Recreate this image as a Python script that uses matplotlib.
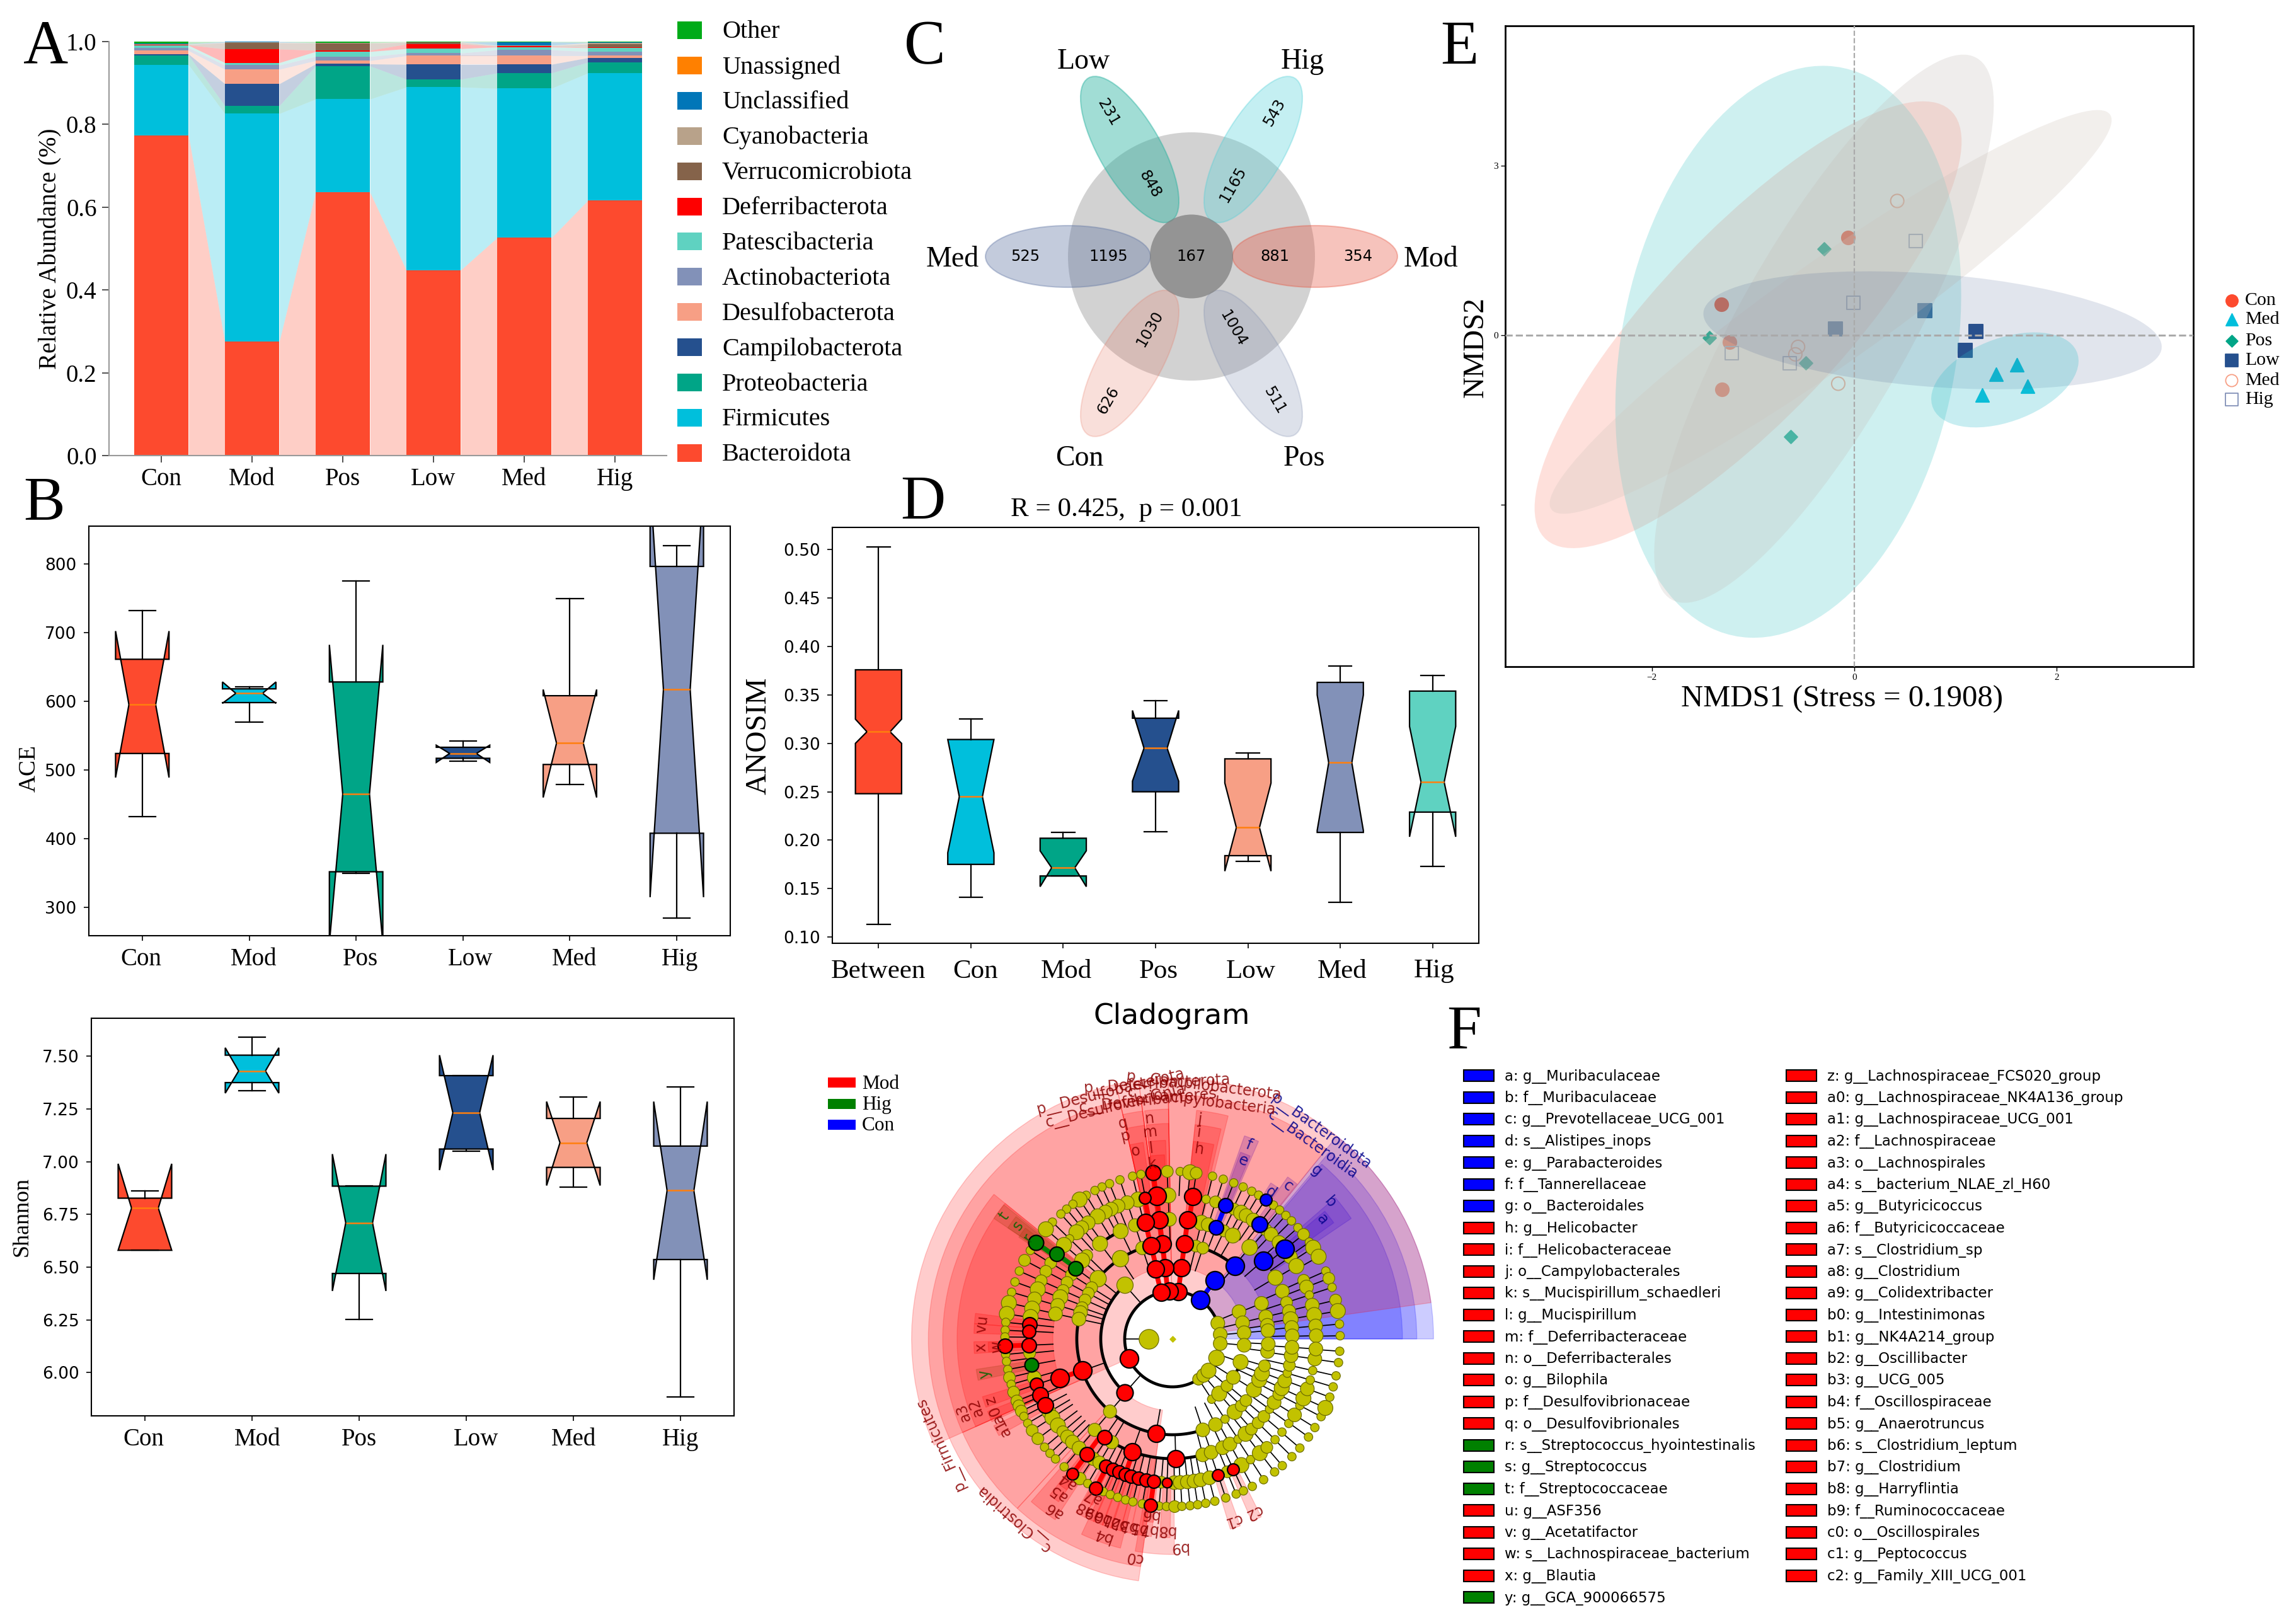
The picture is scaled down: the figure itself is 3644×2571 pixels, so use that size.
import numpy as np
import matplotlib
matplotlib.use("Agg")
import matplotlib.pyplot as plt
from matplotlib.patches import Ellipse, Rectangle
from matplotlib.transforms import ScaledTranslation

W, H = 3644, 2571
SERIF = ["Liberation Serif", "DejaVu Serif"]
SANS = ["DejaVu Sans"]
plt.rcParams["font.family"] = SERIF

# Panel A: relative abundance of each phylum per group
groups = ["Con", "Mod", "Pos", "Low", "Med", "Hig"]
phyla = ["Bacteroidota", "Firmicutes", "Proteobacteria", "Campilobacterota",
         "Desulfobacterota", "Actinobacteriota", "Patescibacteria",
         "Deferribacterota", "Verrucomicrobiota", "Cyanobacteria",
         "Unclassified", "Unassigned", "Other"]
bacteroidota = [0.773, 0.275, 0.636, 0.448, 0.526, 0.616]
firmicutes = [0.171, 0.551, 0.225, 0.442, 0.361, 0.308]
proteobacteria = [0.023, 0.019, 0.080, 0.019, 0.037, 0.026]
campilobacterota = [0.003, 0.053, 0.005, 0.036, 0.021, 0.011]
desulfobacterota = [0.008, 0.035, 0.008, 0.021, 0.021, 0.005]
actinobacteriota = [0.007, 0.010, 0.010, 0.006, 0.014, 0.010]
patescibacteria = [0.006, 0.006, 0.012, 0.011, 0.007, 0.009]
deferribacterota = [0.001, 0.033, 0.003, 0.011, 0.002, 0.001]
verrucomicrobiota = [0.001, 0.015, 0.017, 0.004, 0.001, 0.008]
cyanobacteria = [0.001, 0.001, 0.001, 0.001, 0.001, 0.003]
unclassified = [0.001, 0.002, 0.000, 0.000, 0.008, 0.001]
unassigned = [0.000, 0.000, 0.000, 0.000, 0.000, 0.000]
other = [0.005, 0.000, 0.003, 0.001, 0.001, 0.002]
phylum_values = [bacteroidota, firmicutes, proteobacteria, campilobacterota,
                 desulfobacterota, actinobacteriota, patescibacteria,
                 deferribacterota, verrucomicrobiota, cyanobacteria,
                 unclassified, unassigned, other]
phylum_colors = ["#FD4A2E", "#00BFDC", "#00A587", "#25508E", "#F79F85",
                 "#8291B8", "#5FD2C1", "#FE0000", "#85634A", "#B8A28A",
                 "#0076B8", "#FF8000", "#00AB18"]

# Panel B: ACE
ace_whislo = [432, 570, 350, 513, 479, 285]
ace_q1 = [524, 598, 352, 517, 508, 408]
ace_med = [595, 611.5, 465, 524, 539, 617]
ace_q3 = [661, 618, 628, 533, 608, 796]
ace_whishi = [732, 621, 775, 542, 749, 826]
ace_cilo = [489, 597, 248, 511, 460, 315]
ace_cihi = [702, 628, 682, 536, 617, 920]

# Panel B: Shannon
sha_whislo = [6.58, 7.336, 6.253, 7.05, 6.878, 5.884]
sha_q1 = [6.58, 7.375, 6.47, 7.06, 6.973, 6.536]
sha_med = [6.78, 7.43, 6.71, 7.232, 7.09, 6.863]
sha_q3 = [6.827, 7.505, 6.884, 7.408, 7.205, 7.074]
sha_whishi = [6.86, 7.59, 6.884, 7.408, 7.307, 7.354]
sha_cilo = [6.58, 7.325, 6.387, 6.96, 6.887, 6.44]
sha_cihi = [6.99, 7.54, 7.036, 7.505, 7.285, 7.285]
alpha_colors = ["#FD4A2E", "#00BFDC", "#00A587", "#25508E", "#F79F85", "#8291B8"]

# Panel D: ANOSIM
ano_names = ["Between", "Con", "Mod", "Pos", "Low", "Med", "Hig"]
ano_whislo = [0.113, 0.141, 0.163, 0.209, 0.178, 0.136, 0.173]
ano_q1 = [0.248, 0.175, 0.163, 0.25, 0.184, 0.208, 0.229]
ano_med = [0.312, 0.245, 0.1715, 0.295, 0.213, 0.28, 0.26]
ano_q3 = [0.376, 0.304, 0.202, 0.326, 0.284, 0.363, 0.354]
ano_whishi = [0.503, 0.325, 0.208, 0.344, 0.29, 0.38, 0.37]
ano_cilo = [0.30, 0.187, 0.152, 0.261, 0.168, 0.21, 0.2035]
ano_cihi = [0.325, 0.304, 0.189, 0.334, 0.259, 0.35, 0.3175]
ano_colors = ["#FD4A2E", "#00BFDC", "#00A587", "#25508E", "#F79F85", "#8291B8", "#5FD2C1"]

# Panel C: Venn counts
venn_names = ["Mod", "Hig", "Low", "Med", "Con", "Pos"]
venn_angles = [0, 60, 120, 180, 240, 300]
venn_unique = [354, 543, 231, 525, 626, 511]
venn_shared = [881, 1165, 848, 1195, 1030, 1004]
venn_core = 167
venn_colors = [("#E64B35", 0.33), ("#4DD0D8", 0.33), ("#1FAF9C", 0.42),
               ("#5A70A0", 0.36), ("#E8705A", 0.22), ("#7E8CAE", 0.26)]

# Panel E: NMDS points
nmds_names = ["Con", "Med", "Pos", "Low", "Med", "Hig"]
nmds_x = [[-1.316, -0.062, -1.236, -1.307], [1.607, 1.404, 1.713, 1.263],
          [-0.30, -1.43, -0.477, -0.627], [0.698, -0.185, 1.201, 1.095],
          [0.424, -0.556, -0.583, -0.159], [0.609, -0.009, -1.21, -0.636]]
nmds_y = [[0.544, 1.723, -0.124, -0.956], [-0.527, -0.692, -0.898, -1.055],
          [1.525, -0.049, -0.495, -1.797], [0.429, 0.107, 0.066, -0.264],
          [2.374, -0.206, -0.338, -0.857], [1.665, 0.569, -0.313, -0.495]]
nmds_markers = ["o", "^", "D", "s", "o", "s"]
nmds_colors = ["#FD4A2E", "#00BFDC", "#00A587", "#25508E", "#F79F85", "#8291B8"]
nmds_filled = [True, True, True, True, False, False]

# Panel E: confidence ellipses
ell_cx = [-1.05, -0.653, -0.234, -0.30, 0.773, 1.488]
ell_cy = [0.185, -0.293, 0.412, 0.115, 0.087, -0.79]
ell_ax = [2.11, 1.709, 2.777, 1.678, 2.265, 0.728]
ell_ay = [3.95, 5.056, 3.569, 4.846, 1.043, 0.84]
ell_rho = [0.82, 0.2, 0.95, 0.82, -0.28, 0.4]
ell_colors = [("#FD4A2E", 0.17), ("#5FCFD0", 0.30), ("#CFC4BC", 0.27),
              ("#C4BEB9", 0.27), ("#3C5488", 0.15), ("#2CBBC9", 0.26)]

# Panel F: cladogram, angle in degrees per taxonomic level, node diameter in pixels
y7_ang = [91.8, 100.9, 103.8, 108.3, 112.1, 114.9, 117.6, 121.0, 123.7, 126.5, 129.2, 131.8,
          135.8, 139.1, 148.1, 152.0, 156.1, 160.1, 163.8, 167.6, 171.4, 174.3, 177, 179.3,
          87.4, 84.0, 81.9, 76.2, 72.4, 68.6, 65.1, 61.8, 59.1, 53.0, 50.3, 47.5, 44.8, 41.6,
          38.6, 35.3, 33.0, 29.4, 23.9, 21.2, 17.9, 13.4, 9.6, 5.1, 1.1,
          185.3, 187.7, 190.5, 193.3, 195.7, 198.5, 201.7, 203.5, 205.5, 207.5, 210.2, 213.1,
          216.5, 220.2, 223, 225.7, 229.7, 236.4, 239.6, 245.6, 248.2, 250.9, 253.7, 256.3,
          259.6, 265.4, 267.9,
          270.7, 273.2, 276, 278.6, 281.4, 284.6, 288.5, 292.3, 295, 298.4, 302.9, 307.5,
          310.9, 315.4, 319.4, 324.2, 328.1, 332.4, 335.7, 339.7, 343.4, 347.3, 351.9, 355.8]
y7_dia = [18, 13, 13, 13, 13, 13, 13, 13, 23, 13, 13, 13,
          13, 23, 13, 18, 13, 13, 13, 23, 23, 13, 13, 13,
          13, 23, 18, 13, 13, 13, 13, 13, 13, 13, 13, 13, 13, 13,
          18, 13, 23, 23, 13, 18, 13, 18, 23, 13, 13,
          13, 13, 13, 18, 13, 18, 18, 18, 18, 13, 13, 18,
          18, 13, 13, 13, 13, 19, 13, 13, 13, 13, 13, 13,
          13, 13, 13,
          18, 13, 13, 13, 13, 13, 13, 13, 13, 13, 13, 13,
          13, 13, 13, 13, 13, 13, 23, 13, 13, 13, 13, 13]
y6_ang = [91.7, 103.9, 108.4, 112.3, 115.3, 117.9, 121.4, 126.0, 129.2, 132.0, 135.8, 139.1,
          148.0, 151.9, 156.1, 159.8, 163.8, 167.8, 171.2,
          76.5, 72.6, 64.7, 61.5, 59.2, 55.9, 49.4, 46.7, 42.2, 34.9, 30.5, 24.1, 21.2, 17.8,
          13.6, 9.6, 5.2, 1.3,
          185.7, 195.6, 210.6, 213.2, 217, 220.2, 223, 225.8, 229.4, 236.6, 239.4, 265.5,
          270.7, 273, 275.9, 278.6, 281.3, 284.9, 292.4, 298.6, 302.9, 307.4, 311, 315.5,
          319.6, 324, 328.1, 332.4, 335.6, 339.7, 343.4, 347.3, 352, 356]
y6_dia = [23, 23, 21, 21, 21, 21, 23, 21, 21, 23, 13, 23,
          18, 18, 18, 23, 21, 23, 23,
          13, 18, 18, 23, 21, 21, 18, 21, 21, 21, 23, 18, 21, 13,
          21, 23, 21, 21,
          18, 21, 21, 23, 23, 18, 21, 21, 21, 20, 20, 18,
          21, 21, 21, 21, 21, 21, 18, 23, 13, 23, 18, 13,
          13, 13, 21, 13, 23, 21, 13, 13, 21, 21]
y5_ang = [91.5, 108.3, 115.7, 127.3, 135.8, 139.0, 147.6, 151.8, 156.1, 159.6, 163.7, 167.9,
          76.1, 72.7, 64.5, 59.8, 49.9, 30.8, 23.5, 17.8, 13.4, 9.5, 5.5, 1.5,
          229.4, 239.6,
          284.6, 288.8, 294.7, 298.6, 303.2, 307.6, 311.2, 315.6, 319.7, 324.1, 328, 332.5,
          335.8, 339.5, 343.4, 347.3, 352, 356]
y5_dia = [21, 20, 23, 23, 18, 23, 18, 18, 18, 23, 21, 21,
          23, 21, 18, 23, 24, 23, 21, 18, 20, 23, 21, 21,
          20, 20,
          21, 21, 21, 21, 13, 23, 18, 18, 18, 13, 21, 18,
          23, 21, 13, 18, 21, 21]
y4_ang = [108.4, 123, 141, 147.6, 151.5, 156, 160.9, 164, 168,
          75.9, 71.6, 21.8, 13.4, 8.2, 5,
          229.2,
          288.4, 296.6, 303.2, 310.4, 315.8, 320, 328, 334.8, 338.9, 343.7, 352.5, 357]
y4_dia = [20, 25, 25, 18, 18, 18, 18, 21, 21,
          18, 18, 21, 21, 21, 21,
          20,
          21, 21, 13, 23, 18, 18, 23, 23, 23, 18, 21, 21]
y3_ang = [131.5, 22.3, 13.0, 5.0, 303, 310.5, 319.2, 327.7, 341.3, 355]
y3_dia = [25, 21, 21, 21, 13, 23, 18, 21, 23, 21]
y2_ang = [19.2, 5.5, 302.9, 310.5, 318.6, 336.6, 354.5]
y2_dia = [21, 21, 18, 21, 23, 24, 21]
y1_ang = [180]
y1_dia = [30]
yellow_angles = {1: y1_ang, 2: y2_ang, 3: y3_ang, 4: y4_ang, 5: y5_ang, 6: y6_ang, 7: y7_ang}
yellow_dias = {1: y1_dia, 2: y2_dia, 3: y3_dia, 4: y4_dia, 5: y5_dia, 6: y6_dia, 7: y7_dia}

clade_name = ["a", "b", "c", "d", "e", "f", "g", "p__Bacteroidota", "c__Bacteroidia",
              "h", "i", "j", "p__Campilobacterota", "c__Campylobacteria",
              "k", "l", "m", "n", "p__Deferribacterota", "c__Deferribacteres",
              "o", "p", "q", "p__Desulfobacterota", "c__Desulfovibrionia",
              "r", "s", "t", "y",
              "u", "v", "w", "x", "z", "a0", "a1", "a2", "a3", "a4", "a5", "a6", "a7", "a8",
              "a9", "b0", "b1", "b2", "b3", "b4", "b5", "b6", "b7", "b8", "b9", "c0", "c1", "c2",
              "p__Firmicutes", "c__Clostridia"]
clade_group = (["Con"] * 9 + ["Mod"] * 16 + ["Hig"] * 4 + ["Mod"] * 30)
clade_theta = [38.7, 40.9, 52.9, 56.3, 68.4, 68.6, 49.5, 54.3, 54.3,
               82.0, 82.8, 82.9, 83.0, 83.0,
               96.6, 96.3, 96.2, 96.0, 93.4, 95.9,
               101.2, 103.1, 102.9, 104.0, 103.8,
               144.8, 143.7, 143.9, 190.4,
               174.2, 176.9, 182.4, 182.5, 198.5, 203, 207.5, 199.2, 199.4, 233.4, 233.4, 235.3,
               242.8, 242.4, 245.3, 248, 250.7, 253.3, 256.2, 250.3, 259.3, 262.5, 262.4, 267.8,
               271.5, 260, 288.4, 295, 204.3, 228.5]
clade_level = [6, 5, 6, 7, 6, 5, 4, 2, 3,
               6, 5, 4, 2, 3,
               7, 6, 5, 4, 2, 3,
               6, 5, 4, 2, 3,
               7, 6, 5, 6,
               6, 6, 7, 6, 6, 6, 6, 5, 4, 7, 6, 5,
               7, 6, 6, 6, 6, 6, 6, 5, 6, 7, 6, 6,
               5, 4, 6, 6, 2, 3]
clade_start = [35.8, 34, 51.2, 54.8, 67, 66.5, 0, 0, 0,
               78, 77, 76, 8, 51,
               92.5, 92, 91, 91, 91, 91,
               98.5, 97.5, 97.5, 97.5, 97.5,
               143, 142, 141.5, 188.8,
               172.6, 175.6, 181, 180.8, 196.9, 201.4, 205.9, 141, 141, 231.9, 231.8, 229,
               241.3, 240.9, 243.8, 246.5, 249.2, 251.8, 254.7, 245, 257.8, 261, 260.9, 266.3,
               260, 227.5, 286.9, 293.5, 102.5, 102.5]
clade_end = [40, 41, 54.6, 57.8, 70, 70.5, 49.5, 51, 50,
             84, 84, 84, 91, 91,
             97, 97, 97, 97, 97.5, 97.5,
             102.5, 102.5, 102.5, 102.5, 102.5,
             146.5, 146, 146, 192,
             175.6, 178.4, 184, 184.2, 200.1, 204.6, 209.1, 204, 204, 234.9, 235, 237,
             244.3, 243.9, 246.8, 249.5, 252.2, 254.8, 257.7, 256, 260.8, 264, 263.9, 269.3,
             270.5, 262, 289.9, 296.5, 204, 262]
clade_dia = [28, 28, 24, 18, 22, 22, 28, 28, 28,
             26, 26, 26, 26, 26,
             23, 28, 26, 26, 26, 26,
             18, 26, 26, 26, 26,
             23, 22, 22, 21,
             22, 20, 22, 22, 20, 24, 24, 28, 28, 18, 22, 22,
             20, 20, 20, 20, 20, 20, 20, 26, 20, 20, 20, 15,
             26, 26, 18, 18, 28, 25]
clade_linked = ["e", "c__Bacteroidia",
                "h", "i", "j", "c__Campylobacteria",
                "k", "l", "m", "n", "c__Deferribacteres",
                "o", "p", "q", "c__Desulfovibrionia",
                "r", "s", "w", "a2", "a4", "a5", "a7", "b1", "b6"]
extra_wedge_start = [204]
extra_wedge_end = [227.5]
extra_wedge_level = [4]

# thick black arcs of the tree: level, from angle, to angle
arc_level = [2, 3, 4, 4, 5, 5, 3]
arc_start = [0, 131.5, 108.4, 49.5, 115.7, 239.6, 327.7]
arc_end = [360, 228.5, 288.4, 71.6, 127.3, 284.6, 341.3]

clade_legend = ["Mod", "Hig", "Con"]
group_colors = {"Mod": "#FF0000", "Hig": "#008000", "Con": "#0000FF"}
label_colors = {"Mod": "#8B0000", "Hig": "#006400", "Con": "#00008B"}

biomarkers_left = ["a: g__Muribaculaceae", "b: f__Muribaculaceae", "c: g__Prevotellaceae_UCG_001",
                   "d: s__Alistipes_inops", "e: g__Parabacteroides", "f: f__Tannerellaceae",
                   "g: o__Bacteroidales", "h: g__Helicobacter", "i: f__Helicobacteraceae",
                   "j: o__Campylobacterales", "k: s__Mucispirillum_schaedleri", "l: g__Mucispirillum",
                   "m: f__Deferribacteraceae", "n: o__Deferribacterales", "o: g__Bilophila",
                   "p: f__Desulfovibrionaceae", "q: o__Desulfovibrionales",
                   "r: s__Streptococcus_hyointestinalis", "s: g__Streptococcus", "t: f__Streptococcaceae",
                   "u: g__ASF356", "v: g__Acetatifactor", "w: s__Lachnospiraceae_bacterium",
                   "x: g__Blautia", "y: g__GCA_900066575"]
biomarkers_left_group = ["Con"] * 7 + ["Mod"] * 10 + ["Hig"] * 3 + ["Mod"] * 4 + ["Hig"]
biomarkers_right = ["z: g__Lachnospiraceae_FCS020_group", "a0: g__Lachnospiraceae_NK4A136_group",
                    "a1: g__Lachnospiraceae_UCG_001", "a2: f__Lachnospiraceae", "a3: o__Lachnospirales",
                    "a4: s__bacterium_NLAE_zl_H60", "a5: g__Butyricicoccus", "a6: f__Butyricicoccaceae",
                    "a7: s__Clostridium_sp", "a8: g__Clostridium", "a9: g__Colidextribacter",
                    "b0: g__Intestinimonas", "b1: g__NK4A214_group", "b2: g__Oscillibacter",
                    "b3: g__UCG_005", "b4: f__Oscillospiraceae", "b5: g__Anaerotruncus",
                    "b6: s__Clostridium_leptum", "b7: g__Clostridium", "b8: g__Harryflintia",
                    "b9: f__Ruminococcaceae", "c0: o__Oscillospirales", "c1: g__Peptococcus",
                    "c2: g__Family_XIII_UCG_001"]

YELLOW = "#C2C200"
R_OUT = {2: 10.9, 3: 10.2, 4: 9.6, 5: 9.0, 6: 8.3, 7: 7.7}
R_LABEL = {2: 10.65, 3: 10.0, 4: 9.25, 5: 8.7, 6: 8.0, 7: 7.37}

fig = plt.figure(figsize=(W / 100, H / 100), dpi=100, facecolor="white")


def px_axes(left, top, right, bottom, **kwargs):
    return fig.add_axes([left / W, 1 - bottom / H, (right - left) / W, (bottom - top) / H], **kwargs)


# overlay in pixel units for letters, legends and free labels
over = px_axes(0, 0, W, H, zorder=20)
over.set_xlim(0, W)
over.set_ylim(H, 0)
over.axis("off")
over.patch.set_alpha(0)


def label(x, y, s, size, rotation=0, ha="center", family=None, color="black"):
    over.text(x, y, s, fontsize=size, rotation=rotation, ha=ha, va="center",
              family=family or SERIF, color=color)


def shift_xlabels(ax, shifts):
    # the tick labels of the original sit a few pixels off their ticks
    for lab, dx in zip(ax.get_xticklabels(), shifts):
        lab.set_transform(lab.get_transform() + ScaledTranslation(dx / 100, 0, fig.dpi_scale_trans))


for letter, lx, ly in [("A", 73, 77), ("B", 70, 800), ("C", 1468, 76), ("D", 1465, 799),
                       ("E", 2316, 77), ("F", 2324, 1639)]:
    label(lx, ly, letter, 71)

# ---------- A ----------
ax = px_axes(173, 66, 1058, 723)
bottoms = np.zeros(6)
x = np.arange(6)
bar_w = 0.6
for vals, col in zip(phylum_values, phylum_colors):
    vals = np.array(vals)
    ax.bar(x, vals, bar_w, bottom=bottoms, color=col, zorder=2)
    for i in range(5):
        ax.fill_between([i + bar_w / 2, i + 1 - bar_w / 2],
                        [bottoms[i], bottoms[i + 1]],
                        [bottoms[i] + vals[i], bottoms[i + 1] + vals[i + 1]],
                        color=col, alpha=0.27, lw=0, zorder=1)
    bottoms = bottoms + vals
ax.set_xlim(-0.577, 5.57)
ax.set_ylim(0, 1)
ax.set_xticks(x, groups)
ax.set_yticks([0, 0.2, 0.4, 0.6, 0.8, 1.0])
ax.tick_params(labelsize=28, length=8, width=1.2, pad=6, color="#333333")
ax.spines[["top", "right"]].set_visible(False)
ax.spines[["left", "bottom"]].set_color("#999999")
ax.spines[["left", "bottom"]].set_linewidth(1.5)
label(80, 395, "Relative Abundance (%)", 28, rotation=90)

for i, (name, col) in enumerate(zip(phyla[::-1], phylum_colors[::-1])):
    ly = 48 + 55.9 * i
    over.add_patch(Rectangle((1075, ly - 14), 39, 28, color=col, lw=0))
    label(1146, ly + 3, name, 29, ha="left")


# ---------- box plots ----------
def draw_boxes(ax, names, whislo, q1, med, q3, whishi, cilo, cihi, colors, ylim, yticks, fmt, tick_size):
    stats = []
    for row in zip(names, whislo, q1, med, q3, whishi, cilo, cihi):
        stats.append(dict(label=row[0], whislo=row[1], q1=row[2], med=row[3], q3=row[4],
                          whishi=row[5], cilo=row[6], cihi=row[7], fliers=[]))
    line = dict(color="black", linewidth=1.6)
    parts = ax.bxp(stats, widths=0.5, shownotches=True, patch_artist=True, showfliers=False,
                   boxprops=dict(edgecolor="black", linewidth=1.6), whiskerprops=line, capprops=line,
                   medianprops=dict(color="#FF7F0E", linewidth=1.8))
    for box, col in zip(parts["boxes"], colors):
        box.set_facecolor(col)
    ax.set_xlim(0.5, len(names) + 0.5)
    ax.set_ylim(*ylim)
    ax.set_yticks(yticks, [fmt % t for t in yticks])
    ax.tick_params(axis="x", labelsize=28, length=6, width=1.2, pad=8)
    ax.tick_params(axis="y", labelsize=tick_size, length=6, width=1.2, pad=8)
    for lab in ax.get_yticklabels():
        lab.set_family(SANS)
    for sp in ax.spines.values():
        sp.set_linewidth(1.5)


ax = px_axes(141, 835, 1159, 1485)
draw_boxes(ax, groups, ace_whislo, ace_q1, ace_med, ace_q3, ace_whishi, ace_cilo, ace_cihi,
           alpha_colors, (259, 854.6), [300, 400, 500, 600, 700, 800], "%d", 19)
shift_xlabels(ax, [-2, 7, 7, 12, 7, 5])
label(46, 1220, "ACE", 27, rotation=90)

ax = px_axes(145, 1616, 1165, 2247)
draw_boxes(ax, groups, sha_whislo, sha_q1, sha_med, sha_q3, sha_whishi, sha_cilo, sha_cihi,
           alpha_colors, (5.795, 7.68), [6.0, 6.25, 6.5, 6.75, 7.0, 7.25, 7.5], "%.2f", 19)
shift_xlabels(ax, [-2, 9, 0, 16, 0, 0])
label(35, 1931, "Shannon", 26, rotation=90)

ax = px_axes(1321, 837, 2347, 1497)
draw_boxes(ax, ano_names, ano_whislo, ano_q1, ano_med, ano_q3, ano_whishi, ano_cilo, ano_cihi,
           ano_colors, (0.0935, 0.5231), [0.1, 0.15, 0.2, 0.25, 0.3, 0.35, 0.4, 0.45, 0.5], "%.2f", 19)
ax.tick_params(axis="x", labelsize=31, pad=12)
shift_xlabels(ax, [0, 7, 5, 5, 5, 3, 2])
label(1204, 1168, "ANOSIM", 34, rotation=90)
label(1788, 809, "R = 0.425,  p = 0.001", 31)

# ---------- C ----------
cx, cy = 1891, 407
venn_label_x = [2271, 2067, 1720, 1512, 1713, 2070]
venn_label_y = [412, 98, 98, 412, 728, 728]
over.add_patch(Ellipse((cx, cy), 392, 394, facecolor="#808080", alpha=0.35, lw=0))
for name, ang, uni, sha, (col, alp), lx, ly in zip(venn_names, venn_angles, venn_unique, venn_shared,
                                                   venn_colors, venn_label_x, venn_label_y):
    t = np.radians(ang)
    over.add_patch(Ellipse((cx + 196 * np.cos(t), cy - 196 * np.sin(t)), 262, 98, angle=-ang,
                           facecolor=col, alpha=alp, edgecolor=col, lw=1.5))
    rot = ang if ang <= 90 else ang - 180 if ang <= 270 else ang - 360
    label(cx + 264 * np.cos(t), cy - 264 * np.sin(t), str(uni), 17.5, rotation=rot, family=SANS)
    label(cx + 132 * np.cos(t), cy - 132 * np.sin(t), str(sha), 17.5, rotation=rot, family=SANS)
    label(lx, ly, name, 33)
over.add_patch(Ellipse((cx, cy), 132, 133, facecolor="#808080", alpha=0.75, lw=0))
label(cx, cy, str(venn_core), 17.5, family=SANS)

# ---------- E ----------
ax = px_axes(2389, 41, 3481, 1058)
for xs, ys, mk, col, filled in zip(nmds_x, nmds_y, nmds_markers, nmds_colors, nmds_filled):
    ax.scatter(xs, ys, s=230 if mk != "D" else 110, marker=mk, zorder=2, linewidths=1.5,
               facecolors=col if filled else "none", edgecolors=col)
for ecx, ecy, eax, eay, rho, (col, alp) in zip(ell_cx, ell_cy, ell_ax, ell_ay, ell_rho, ell_colors):
    cov = np.array([[eax ** 2, rho * eax * eay], [rho * eax * eay, eay ** 2]])
    vals, vecs = np.linalg.eigh(cov)
    angle = np.degrees(np.arctan2(vecs[1, 1], vecs[0, 1]))
    ax.add_patch(Ellipse((ecx, ecy), 2 * np.sqrt(vals[1]), 2 * np.sqrt(vals[0]), angle=angle,
                         facecolor=col, alpha=alp, lw=0, zorder=3))
ax.axhline(0, color="#AAAAAA", ls="--", lw=2.2, zorder=4)
ax.axvline(0, color="#AAAAAA", ls="--", lw=1.6, zorder=4)
ax.set_xlim(-3.45, 3.35)
ax.set_ylim(-5.86, 5.47)
ax.set_xticks([-2, 0, 2])
ax.set_yticks([-3, 0, 3], ["", "0", "3"])
ax.tick_params(labelsize=11, length=5, width=1, pad=3)
for sp in ax.spines.values():
    sp.set_linewidth(2)
label(2924, 1110, "NMDS1 (Stress = 0.1908)", 35)
label(2342, 551, "NMDS2", 34, rotation=90)
for name, mk, col, filled, ly in zip(nmds_names, nmds_markers, nmds_colors, nmds_filled,
                                     [477, 507, 541, 572, 604, 634]):
    over.scatter([3542], [ly], s=190 if mk != "D" else 90, marker=mk, linewidths=1.3,
                 facecolors=col if filled else "none", edgecolors=col)
    label(3563, ly, name, 21.5, ha="left")

# ---------- cladogram ----------
r_ax = 11.4 * 38
pol = px_axes(1861 - r_ax, 2125 - r_ax, 1861 + r_ax, 2125 + r_ax, projection="polar", zorder=5)


def wedge(start, end, level, group):
    pol.bar(np.radians(start), R_OUT[level] - level, width=np.radians(end - start), bottom=level,
            align="edge", facecolor=group_colors[group], edgecolor=group_colors[group],
            alpha=0.2, linewidth=1, zorder=1)


for name, grp, th, lev, st, en, dia in zip(clade_name, clade_group, clade_theta, clade_level,
                                           clade_start, clade_end, clade_dia):
    wedge(st, en, lev, grp)
for st, en, lev in zip(extra_wedge_start, extra_wedge_end, extra_wedge_level):
    wedge(st, en, lev, "Mod")

# thin radial edges of the tree
for lev in range(3, 8):
    for th in yellow_angles[lev]:
        pol.plot([np.radians(th)] * 2, [lev - 1, lev], color="black", lw=1.25, zorder=2)
pol.plot([np.pi, np.pi], [1, 2], color="black", lw=1.25, zorder=2)
for name, th, lev in zip(clade_name, clade_theta, clade_level):
    if lev > 2:
        pol.plot([np.radians(th)] * 2, [lev - 1, lev], color="black", lw=1.25, zorder=2)
for lev, st, en in zip(arc_level, arc_start, arc_end):
    thetas = np.radians(np.linspace(st, en, 200))
    pol.plot(thetas, np.full_like(thetas, lev), color="black", lw=3.4, zorder=2, solid_capstyle="butt")
for name, grp, th, lev in zip(clade_name, clade_group, clade_theta, clade_level):
    if name in clade_linked:
        pol.plot([np.radians(th)] * 2, [lev - 1, lev], color=group_colors[grp], lw=5.5,
                 zorder=3, solid_capstyle="butt")

for lev in yellow_angles:
    pol.scatter(np.radians(yellow_angles[lev]), [lev] * len(yellow_angles[lev]),
                s=(np.array(yellow_dias[lev]) * 0.75) ** 2, facecolor=YELLOW, edgecolor="#6E6E00",
                linewidth=0.9, zorder=4)
for name, grp, th, lev, dia in zip(clade_name, clade_group, clade_theta, clade_level, clade_dia):
    pol.scatter(np.radians(th), lev, s=(dia * 0.75) ** 2, facecolor=group_colors[grp],
                edgecolor="black", linewidth=1.6, zorder=5)
    pol.text(np.radians(th), R_LABEL[lev], name, rotation=th - 90, rotation_mode="anchor",
             ha="center", va="center", fontsize=17, family=SANS, color=label_colors[grp],
             alpha=0.85, zorder=6, clip_on=False)
pol.scatter([0], [0], marker="D", s=22, color=YELLOW, zorder=4)
pol.set_rlim(0, 11.4)
pol.axis("off")
label(1860, 1612, "Cladogram", 32.7, family=SANS)

for i, name in enumerate(clade_legend):
    ly = 1718 + 33.5 * i
    over.add_patch(Rectangle((1314, ly - 8), 44, 16, color=group_colors[name], lw=0))
    label(1368, ly + 2, name, 22.5, ha="left")

# ---------- biomarker list ----------
for i, (name, grp) in enumerate(zip(biomarkers_left, biomarkers_left_group)):
    ly = 1707 + 34.5 * i
    over.add_patch(Rectangle((2323, ly - 9), 48, 18, facecolor=group_colors[grp], edgecolor="black", lw=1.5))
    label(2388, ly + 1, name, 16.5, ha="left", family=SANS)
for i, name in enumerate(biomarkers_right):
    ly = 1707 + 34.5 * i
    over.add_patch(Rectangle((2835, ly - 9), 48, 18, facecolor=group_colors["Mod"], edgecolor="black", lw=1.5))
    label(2900, ly + 1, name, 16.5, ha="left", family=SANS)

fig.savefig("out.png", dpi=100)
